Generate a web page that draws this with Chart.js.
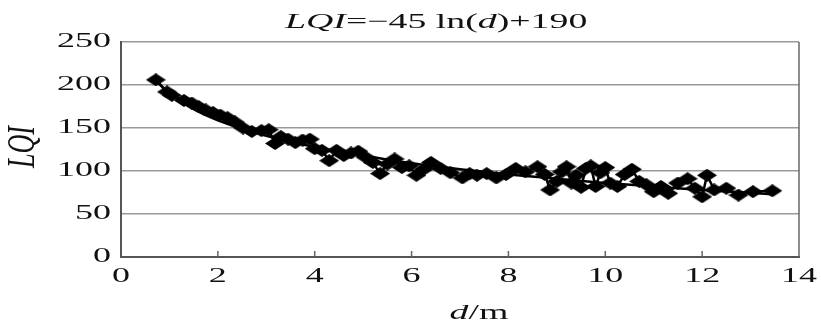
<!DOCTYPE html>
<html lang="en">
<head>
    <meta charset="UTF-8">
    <title>LQI vs distance</title>
    <script src="https://cdn.jsdelivr.net/npm/chart.js"></script>
    <style>
        body {
            margin: 0;
            padding: 0;
            background: #fff;
        }
        .wrap {
            width: 821px;
            height: 327px;
        }
    </style>
</head>
<body>
    <div class="wrap"><canvas id="lqi-chart"></canvas></div>

    <script>
        // measured points (distance in m, LQI)
        const dist = [0.72, 0.95, 1.05, 1.3, 1.46, 1.6, 1.75, 1.9, 2.05, 2.2, 2.35, 2.52, 2.7, 2.9, 3.05,
            3.18, 3.3, 3.45, 3.6, 3.75, 3.9, 4.0, 4.15, 4.3, 4.45, 4.6, 4.75, 4.9, 5.05, 5.2, 5.35, 5.5,
            5.65, 5.8, 5.95, 6.1, 6.25, 6.4, 6.6, 6.8, 7.05, 7.2, 7.35, 7.55, 7.75, 7.95, 8.15, 8.35, 8.6,
            8.75, 8.86, 9.0, 9.1, 9.2, 9.3, 9.4, 9.5, 9.6, 9.7, 9.8, 9.9, 10.0, 10.1, 10.25, 10.4, 10.55,
            10.7, 10.85, 11.0, 11.15, 11.3, 11.5, 11.7, 11.85, 12.0, 12.1, 12.25, 12.5, 12.75, 13.05, 13.45];
        const lqi = [206, 192, 188, 182, 179, 175, 171, 168, 165, 162, 157, 150, 146, 147, 148,
            132, 140, 137, 133, 136, 137, 126, 124, 112, 124, 118, 121, 123, 116, 110, 97, 108,
            114, 104, 106, 95, 102, 110, 103, 98, 92, 97, 95, 97, 92, 96, 103, 99, 105,
            96, 78, 88, 99, 105, 86, 95, 81, 103, 106, 82, 98, 104, 86, 82, 96, 102,
            88, 84, 76, 82, 74, 86, 91, 80, 70, 95, 78, 80, 72, 76, 77];

        // fitted curve
        const fitDist = [0.72, 1, 1.5, 2, 3, 4, 5, 6, 7, 8, 9, 10, 11, 12, 13.45];
        const fitLqi = [205, 190, 172, 159, 141, 128, 118, 109, 102, 96, 91, 86, 82, 78, 73];

        const xTicks = [0, 2, 4, 6, 8, 10, 12, 14];
        const yTicks = [0, 50, 100, 150, 200, 250];

        const SERIF = '"Liberation Serif", "Times New Roman", serif';
        const STRETCH = 1.8;

        // stretched diamond marker
        const diamond = document.createElement('canvas');
        diamond.width = 20;
        diamond.height = 13;
        const dctx = diamond.getContext('2d');
        dctx.fillStyle = '#000';
        dctx.beginPath();
        dctx.moveTo(0, 6.5);
        dctx.lineTo(10, 0);
        dctx.lineTo(20, 6.5);
        dctx.lineTo(10, 13);
        dctx.closePath();
        dctx.fill();

        function wideText(ctx, text, x, y, align) {
            ctx.save();
            ctx.translate(x, y);
            ctx.scale(STRETCH, 1);
            ctx.textAlign = align;
            ctx.fillText(text, 0, 0);
            ctx.restore();
        }

        const labelsPlugin = {
            id: 'labels',
            afterDraw(chart) {
                const ctx = chart.ctx;
                const xs = chart.scales.x;
                const ys = chart.scales.y;
                const area = chart.chartArea;
                ctx.save();
                ctx.fillStyle = '#111';
                ctx.textBaseline = 'middle';
                ctx.font = '20px ' + SERIF;

                yTicks.forEach(v => wideText(ctx, String(v), 111, ys.getPixelForValue(v), 'right'));
                xTicks.forEach(v => wideText(ctx, String(v), xs.getPixelForValue(v), 277, 'center'));

                // small inward tick marks on the x axis
                ctx.strokeStyle = '#666';
                ctx.lineWidth = 1.5;
                xTicks.slice(1, -1).forEach(v => {
                    const px = xs.getPixelForValue(v);
                    ctx.beginPath();
                    ctx.moveTo(px, area.bottom);
                    ctx.lineTo(px, area.bottom - 6);
                    ctx.stroke();
                });

                // right frame
                ctx.beginPath();
                ctx.moveTo(area.right, area.top);
                ctx.lineTo(area.right, area.bottom);
                ctx.stroke();

                // title
                const parts = [
                    ['LQI', true], ['=\u221245 ln(', false], ['d', true], [')+190', false]
                ];
                let tx = 285;
                parts.forEach(([t, it]) => {
                    ctx.font = (it ? 'italic ' : '') + '21px ' + SERIF;
                    wideText(ctx, t, tx, 22, 'left');
                    tx += ctx.measureText(t).width * STRETCH;
                });

                // x axis title
                ctx.font = 'italic 21px ' + SERIF;
                const dw = ctx.measureText('d').width * STRETCH;
                ctx.font = '21px ' + SERIF;
                const mw = ctx.measureText('/m').width * STRETCH;
                const lx = 479 - (dw + mw) / 2;
                ctx.font = 'italic 21px ' + SERIF;
                wideText(ctx, 'd', lx, 313, 'left');
                ctx.font = '21px ' + SERIF;
                wideText(ctx, '/m', lx + dw, 313, 'left');

                // y axis title
                ctx.save();
                ctx.translate(23, 147);
                ctx.rotate(-Math.PI / 2);
                ctx.scale(1, 1.55);
                ctx.font = 'italic 26px ' + SERIF;
                ctx.textAlign = 'center';
                ctx.fillText('LQI', 0, 0);
                ctx.restore();

                ctx.restore();
            }
        };

        new Chart(document.getElementById('lqi-chart'), {
            type: 'line',
            data: {
                datasets: [{
                    label: 'measured',
                    data: dist.map((d, i) => ({ x: d, y: lqi[i] })),
                    borderColor: '#000',
                    backgroundColor: '#000',
                    borderWidth: 2.5,
                    pointStyle: diamond,
                    tension: 0,
                }, {
                    label: 'fit',
                    data: fitDist.map((d, i) => ({ x: d, y: fitLqi[i] })),
                    borderColor: '#000',
                    borderWidth: 2.5,
                    pointRadius: 0,
                    cubicInterpolationMode: 'monotone',
                }],
            },
            options: {
                responsive: true,
                maintainAspectRatio: false,
                animation: false,
                layout: {
                    padding: { top: 42, right: 22, left: 0, bottom: 0 }
                },
                plugins: {
                    legend: { display: false },
                    tooltip: { enabled: false },
                },
                scales: {
                    x: {
                        type: 'linear',
                        min: 0,
                        max: 14,
                        grid: { display: false },
                        border: { color: '#555', width: 2 },
                        ticks: { display: false },
                        afterFit(scale) { scale.height = 70; },
                    },
                    y: {
                        min: 0,
                        max: 250,
                        grid: { color: '#999', lineWidth: 1.5, drawTicks: false },
                        border: { color: '#555', width: 2 },
                        ticks: { display: false, stepSize: 50 },
                        afterFit(scale) { scale.width = 121; },
                    },
                },
            },
            plugins: [labelsPlugin],
        });
    </script>
</body>
</html>
